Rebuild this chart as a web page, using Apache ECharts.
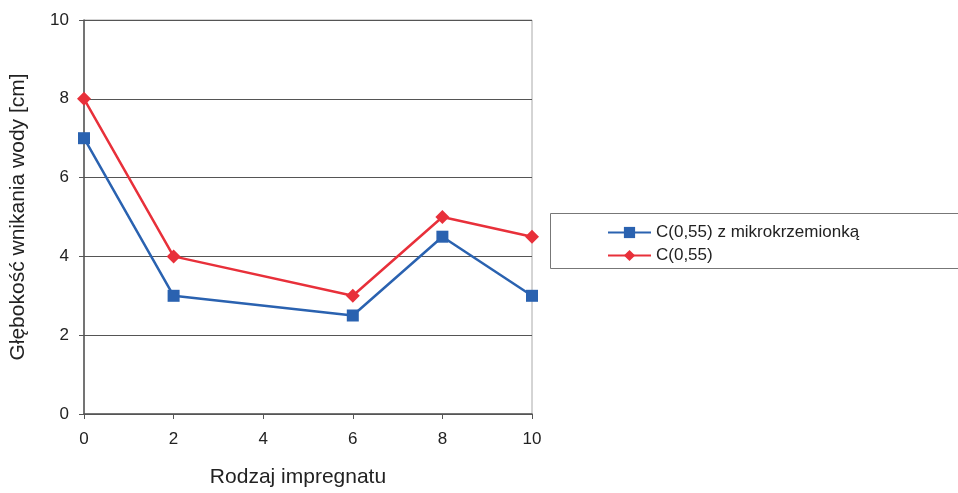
<!DOCTYPE html>
<html><head><meta charset="utf-8">
<script src="https://cdn.jsdelivr.net/npm/echarts@6/dist/echarts.min.js"></script>
<style>html,body{margin:0;padding:0;background:#fff}#c{width:958px;height:493px}</style>
</head><body><div id="c"></div>
<script>
const xValues = [0, 2, 6, 8, 10];
const seriesBlue = [7, 3, 2.5, 4.5, 3];
const seriesRed = [8, 4, 3, 5, 4.5];
const nameBlue = 'C(0,55) z mikrokrzemionką';
const nameRed = 'C(0,55)';
const chart = echarts.init(document.getElementById('c'));
const font = 'Liberation Sans, Arial, sans-serif';
chart.setOption({
  animation: false,
  textStyle: {fontFamily: font},
  grid: {left: 84, right: 426, top: 20, bottom: 77, show: true, borderColor: '#aaaaaa', borderWidth: 1},
  legend: {
    orient: 'vertical', left: 602, top: 219, itemWidth: 43, itemHeight: 14, itemGap: 6,
    textStyle: {fontFamily: font, fontSize: 17, color: '#222'},
    data: [nameBlue, nameRed]
  },
  graphic: [{type: 'rect', shape: {x: 550.5, y: 213.5, width: 420, height: 55},
    style: {fill: 'none', stroke: '#777', lineWidth: 1}, z: 0}],
  xAxis: {
    type: 'value', min: 0, max: 10, interval: 2,
    name: 'Rodzaj impregnatu', nameLocation: 'middle', nameGap: 53,
    nameTextStyle: {fontSize: 21, color: '#222', padding: [0, 20, 0, 0]},
    axisLine: {lineStyle: {color: '#555', width: 1.5}},
    axisTick: {show: true, length: 5, lineStyle: {color: '#555'}},
    axisLabel: {fontSize: 17, color: '#222', margin: 17},
    splitLine: {show: false}
  },
  yAxis: {
    type: 'value', min: 0, max: 10, interval: 2,
    name: 'Głębokość wnikania wody [cm]', nameLocation: 'middle', nameGap: 55,
    nameTextStyle: {fontSize: 21, color: '#222'},
    axisLine: {show: true, lineStyle: {color: '#555', width: 1.5}},
    axisTick: {show: true, length: 5, lineStyle: {color: '#555'}},
    axisLabel: {fontSize: 17, color: '#222', margin: 15},
    splitLine: {show: true, lineStyle: {color: '#555', width: 1}}
  },
  series: [
    {name: nameBlue, type: 'line', data: xValues.map((x, i) => [x, seriesBlue[i]]),
     symbol: 'rect', symbolSize: 12, lineStyle: {color: '#2a62b0', width: 2.5},
     itemStyle: {color: '#2a62b0'}, z: 3},
    {name: nameRed, type: 'line', data: xValues.map((x, i) => [x, seriesRed[i]]),
     symbol: 'diamond', symbolSize: 14, lineStyle: {color: '#e8303a', width: 2.5},
     itemStyle: {color: '#e8303a'}, z: 4}
  ]
});
</script></body></html>
